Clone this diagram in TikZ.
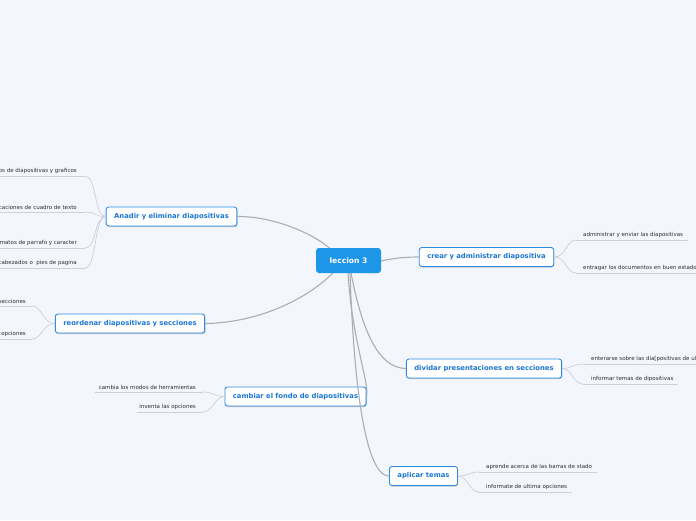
\documentclass[tikz,border=0pt]{standalone}
\usepackage{fontspec}
\setmainfont{DejaVu Sans}
\usetikzlibrary{shadows}
\definecolor{bg}{RGB}{243,246,253}
\definecolor{boxblue}{RGB}{45,140,230}
\definecolor{txtblue}{RGB}{28,118,214}
\definecolor{cblue}{RGB}{30,150,232}
\definecolor{mainline}{RGB}{172,174,182}
\definecolor{leafline}{RGB}{205,208,215}
\definecolor{leaftxt}{RGB}{45,45,50}
\tikzset{
  mainbox/.style={draw=boxblue, line width=0.9pt, fill=white, rounded corners=2.5pt,
    font=\bfseries\fontsize{6.8}{8}\selectfont, text=txtblue, inner xsep=8pt,
    minimum height=19pt, drop shadow={shadow xshift=0.6pt, shadow yshift=-1pt, opacity=0.35, fill=black!60}},
  centerbox/.style={fill=cblue, rounded corners=3pt, text=white,
    font=\bfseries\fontsize{7.6}{9}\selectfont, minimum width=65pt, minimum height=25pt},
  maincon/.style={draw=mainline, line width=1.1pt},
  leafcon/.style={draw=leafline, line width=0.7pt},
  leaftext/.style={font=\fontsize{5.5}{6.5}\selectfont, text=leaftxt, inner sep=0pt}
}
\begin{document}
\begin{tikzpicture}[x=1pt,y=-1pt]
\fill[bg] (0,0) rectangle (696,520);
\useasboundingbox (0,0) rectangle (696,520);

% main nodes
\node[mainbox] (n1) at (171.5,216.5) {Anadir y eliminar diapositivas};
\node[mainbox] (n2) at (130,323.5) {reordenar diapositivas y secciones};
\node[mainbox] (n3) at (295.5,396.5) {cambiar el fondo de diapositivas};
\node[mainbox] (n4) at (486.5,257) {crear y administrar diapositiva};
\node[mainbox] (n5) at (484,368.5) {dividar presentaciones en secciones};
\node[mainbox] (n6) at (423.5,476) {aplicar temas};

% central connectors
\draw[maincon] (329.5,248) coordinate (s1) .. controls (305,228) and (265,216) .. (n1.east);
\draw[maincon] (333,273) coordinate (s2) .. controls (300,305) and (250,323) .. (n2.east);
\draw[maincon] (348,273) coordinate (s3) .. controls (352,340) and (370,385) .. (n3.east);
\draw[maincon] (351,273) coordinate (s5) .. controls (362,330) and (378,368) .. (n5.west);
\draw[maincon] (350,273) coordinate (s6) .. controls (354,390) and (366,476) .. (n6.west);
\draw[maincon] (381,261) coordinate (s4) .. controls (395,258) and (405,257) .. (n4.west);

\node[centerbox] (c) at (348.5,260.5) {leccion 3};

% leaves of n1
\coordinate (a1) at (85,176); \draw[leafcon] (0,176) -- (a1);
\node[leaftext, anchor=south east] (t1) at (77,174) {os de diapositivas y graficos};
\draw[leafcon] (n1.west) .. controls +(-12,0) and +(12,0) .. (a1);
\coordinate (a2) at (85,212); \draw[leafcon] (0,212) -- (a2);
\node[leaftext, anchor=south east] (t2) at (77,210) {caciones de cuadro de texto};
\draw[leafcon] (n1.west) .. controls +(-12,0) and +(12,0) .. (a2);
\coordinate (a3) at (85,248); \draw[leafcon] (0,248) -- (a3);
\node[leaftext, anchor=south east] (t3) at (77,246) {matos de parrafo y caracter};
\draw[leafcon] (n1.west) .. controls +(-12,0) and +(12,0) .. (a3);
\coordinate (a4) at (85,268); \draw[leafcon] (0,268) -- (a4);
\node[leaftext, anchor=south east] (t4) at (77,266) {cabezados o\ \ pies de pagina};
\draw[leafcon] (n1.west) .. controls +(-12,0) and +(12,0) .. (a4);

% leaves of n2
\coordinate (b1) at (32,306); \draw[leafcon] (0,306) -- (b1);
\node[leaftext, anchor=south east] (u1) at (26,304) {secciones};
\draw[leafcon] (n2.west) .. controls +(-12,0) and +(10,0) .. (b1);
\coordinate (b2) at (32,339); \draw[leafcon] (0,339) -- (b2);
\node[leaftext, anchor=south east] (u2) at (26,337) {opciones};
\draw[leafcon] (n2.west) .. controls +(-12,0) and +(10,0) .. (b2);

% leaves of n3
\coordinate (d1) at (203,392); \draw[leafcon] (95,392) -- (d1);
\node[leaftext, anchor=south east] (v1) at (196,390) {cambia los modos de herramientas};
\draw[leafcon] (n3.west) .. controls +(-10,0) and +(10,0) .. (d1);
\coordinate (d2) at (203,412); \draw[leafcon] (137,412) -- (d2);
\node[leaftext, anchor=south east] (v2) at (196,410) {inventa las opciones};
\draw[leafcon] (n3.west) .. controls +(-10,0) and +(10,0) .. (d2);

% leaves of n4
\coordinate (e1) at (576,240); \draw[leafcon] (e1) -- (688,240);
\node[leaftext, anchor=south west] (w1) at (583,238) {administrar y enviar las diapositivas};
\draw[leafcon] (n4.east) .. controls +(12,0) and +(-10,0) .. (e1);
\coordinate (e2) at (576,273); \draw[leafcon] (e2) -- (700,273);
\node[leaftext, anchor=south west] (w2) at (583,271) {entragar los documentos en buen estado};
\draw[leafcon] (n4.east) .. controls +(12,0) and +(-10,0) .. (e2);

% leaves of n5
\coordinate (f1) at (583,364); \draw[leafcon] (f1) -- (700,364);
\node[leaftext, anchor=south west] (x1) at (591,362) {enterarse sobre las dia[positivas de ul};
\draw[leafcon] (n5.east) .. controls +(10,0) and +(-10,0) .. (f1);
\coordinate (f2) at (583,384); \draw[leafcon] (f2) -- (678,384);
\node[leaftext, anchor=south west] (x2) at (591,382) {informar temas de dipositivas};
\draw[leafcon] (n5.east) .. controls +(10,0) and +(-10,0) .. (f2);

% leaves of n6
\coordinate (g1) at (479,472); \draw[leafcon] (g1) -- (597,472);
\node[leaftext, anchor=south west] (y1) at (486,470) {aprende acerca de las barras de stado};
\draw[leafcon] (n6.east) .. controls +(10,0) and +(-10,0) .. (g1);
\coordinate (g2) at (479,492); \draw[leafcon] (g2) -- (572,492);
\node[leaftext, anchor=south west] (y2) at (486,490) {informate de ultima opciones};
\draw[leafcon] (n6.east) .. controls +(10,0) and +(-10,0) .. (g2);
\end{tikzpicture}
\end{document}
